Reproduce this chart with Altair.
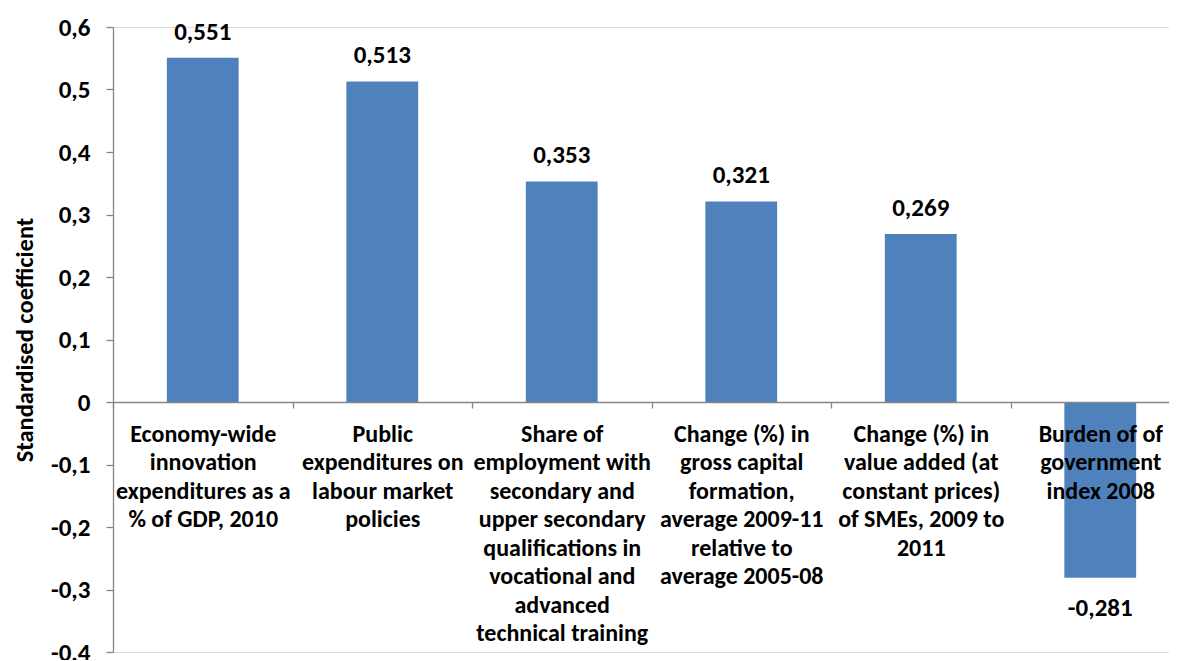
import altair as alt
import pandas as pd

categories = [
    "Economy-wide|innovation|expenditures as a|% of GDP, 2010",
    "Public|expenditures on|labour market|policies",
    "Share of|employment with|secondary and|upper secondary|qualifications in|vocational and|advanced|technical training",
    "Change (%) in|gross capital|formation,|average 2009-11|relative to|average 2005-08",
    "Change (%) in|value added (at|constant prices)|of SMEs, 2009 to|2011",
    "Burden of of|government|index 2008",
]
values = [0.551, 0.513, 0.353, 0.321, 0.269, -0.281]
value_labels = ["0,551", "0,513", "0,353", "0,321", "0,269", "-0,281"]
y_ticks = [-0.4, -0.3, -0.2, -0.1, 0.0, 0.1, 0.2, 0.3, 0.4, 0.5, 0.6]

df = pd.DataFrame({"cat": categories, "v": values, "lab": value_labels})

FONT = "Carlito, Lato, sans-serif"
GREY = "#868686"
PLOT_W = 1077
PLOT_H = 625

x_enc = alt.X(
    "cat:N",
    sort=categories,
    scale=alt.Scale(range=[0, PLOT_W], paddingInner=0, paddingOuter=0),
    axis=alt.Axis(
        title=None,
        orient="bottom",
        offset=-250,
        domainColor=GREY,
        domainWidth=1.3,
        tickColor=GREY,
        tickWidth=1.3,
        tickSize=6,
        tickBand="extent",
        labelExpr="split(datum.label, '|')",
        labelFont=FONT,
        labelFontSize=24,
        labelFontWeight="bold",
        labelColor="black",
        labelLineHeight=28.5,
        labelPadding=14,
        labelLimit=0,
        labelOverlap=False,
        labelBound=False,
        labelAngle=0,
        zindex=1,
    ),
)

y_scale = alt.Scale(domain=[-0.4, 0.6], nice=False, zero=False)

bars = alt.Chart(df).mark_bar(color="#4F81BD", width={"band": 0.4}).encode(
    x=x_enc,
    y=alt.Y(
        "v:Q",
        scale=y_scale,
        axis=alt.Axis(
            title="Standardised coefficient",
            titleFont=FONT,
            titleFontSize=24.5,
            titleFontWeight="bold",
            titleColor="black",
            titlePadding=13,
            values=y_ticks,
            labelExpr="abs(datum.value) < 1e-9 ? '0' : (datum.value < 0 ? '-' : '') + replace(format(abs(datum.value), '.1f'), '.', ',')",
            labelFont=FONT,
            labelFontSize=25,
            labelFontWeight="bold",
            labelColor="black",
            labelPadding=16,
            domainColor=GREY,
            domainWidth=1.3,
            tickColor=GREY,
            tickWidth=1.3,
            tickSize=7,
            grid=False,
        ),
    ),
)

pos_labels = alt.Chart(df).transform_filter("datum.v >= 0").mark_text(
    font=FONT, fontSize=25, fontWeight="bold", color="black", baseline="middle", dy=-26
).encode(x=alt.X("cat:N", sort=categories), y=alt.Y("v:Q"), text="lab:N")

neg_labels = alt.Chart(df).transform_filter("datum.v < 0").mark_text(
    font=FONT, fontSize=25, fontWeight="bold", color="black", baseline="middle", dy=30
).encode(x=alt.X("cat:N", sort=categories), y=alt.Y("v:Q"), text="lab:N")

chart = (
    alt.layer(bars, pos_labels, neg_labels)
    .properties(
        width=1056,
        height=PLOT_H,
        autosize=alt.AutoSizeParams(type="none"),
        padding={"left": 105, "top": 19, "right": 0, "bottom": 8},
    )
    .configure_view(stroke=None)
    .configure(background="white")
)

chart.save("out.html", embed_options={"renderer": "svg", "actions": False})
